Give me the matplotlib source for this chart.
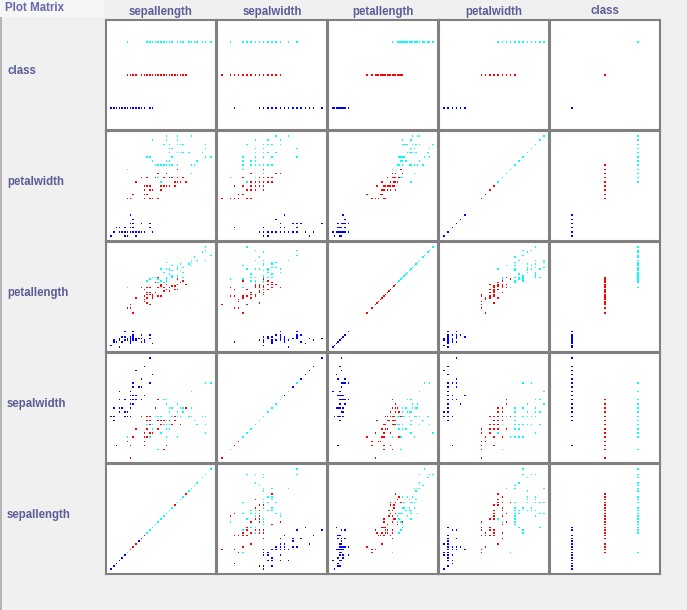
import matplotlib
matplotlib.use('Agg')
import matplotlib.pyplot as plt
import matplotlib.patches as patches
import numpy as np

# iris data (weka iris.arff)
sepallength = [5.1, 4.9, 4.7, 4.6, 5.0, 5.4, 4.6, 5.0, 4.4, 4.9, 5.4, 4.8, 4.8, 4.3, 5.8, 5.7, 5.4, 5.1, 5.7, 5.1,
               5.4, 5.1, 4.6, 5.1, 4.8, 5.0, 5.0, 5.2, 5.2, 4.7, 4.8, 5.4, 5.2, 5.5, 4.9, 5.0, 5.5, 4.9, 4.4, 5.1,
               5.0, 4.5, 4.4, 5.0, 5.1, 4.8, 5.1, 4.6, 5.3, 5.0,
               7.0, 6.4, 6.9, 5.5, 6.5, 5.7, 6.3, 4.9, 6.6, 5.2, 5.0, 5.9, 6.0, 6.1, 5.6, 6.7, 5.6, 5.8, 6.2, 5.6,
               5.9, 6.1, 6.3, 6.1, 6.4, 6.6, 6.8, 6.7, 6.0, 5.7, 5.5, 5.5, 5.8, 6.0, 5.4, 6.0, 6.7, 6.3, 5.6, 5.5,
               5.5, 6.1, 5.8, 5.0, 5.6, 5.7, 5.7, 6.2, 5.1, 5.7,
               6.3, 5.8, 7.1, 6.3, 6.5, 7.6, 4.9, 7.3, 6.7, 7.2, 6.5, 6.4, 6.8, 5.7, 5.8, 6.4, 6.5, 7.7, 7.7, 6.0,
               6.9, 5.6, 7.7, 6.3, 6.7, 7.2, 6.2, 6.1, 6.4, 7.2, 7.4, 7.9, 6.4, 6.3, 6.1, 7.7, 6.3, 6.4, 6.0, 6.9,
               6.7, 6.9, 5.8, 6.8, 6.7, 6.7, 6.3, 6.5, 6.2, 5.9]
sepalwidth = [3.5, 3.0, 3.2, 3.1, 3.6, 3.9, 3.4, 3.4, 2.9, 3.1, 3.7, 3.4, 3.0, 3.0, 4.0, 4.4, 3.9, 3.5, 3.8, 3.8,
              3.4, 3.7, 3.6, 3.3, 3.4, 3.0, 3.4, 3.5, 3.4, 3.2, 3.1, 3.4, 4.1, 4.2, 3.1, 3.2, 3.5, 3.1, 3.0, 3.4,
              3.5, 2.3, 3.2, 3.5, 3.8, 3.0, 3.8, 3.2, 3.7, 3.3,
              3.2, 3.2, 3.1, 2.3, 2.8, 2.8, 3.3, 2.4, 2.9, 2.7, 2.0, 3.0, 2.2, 2.9, 2.9, 3.1, 3.0, 2.7, 2.2, 2.5,
              3.2, 2.8, 2.5, 2.8, 2.9, 3.0, 2.8, 3.0, 2.9, 2.6, 2.4, 2.4, 2.7, 2.7, 3.0, 3.4, 3.1, 2.3, 3.0, 2.5,
              2.6, 3.0, 2.6, 2.3, 2.7, 3.0, 2.9, 2.9, 2.5, 2.8,
              3.3, 2.7, 3.0, 2.9, 3.0, 3.0, 2.5, 2.9, 2.5, 3.6, 3.2, 2.7, 3.0, 2.5, 2.8, 3.2, 3.0, 3.8, 2.6, 2.2,
              3.2, 2.8, 2.8, 2.7, 3.3, 3.2, 2.8, 3.0, 2.8, 3.0, 2.8, 3.8, 2.8, 2.8, 2.6, 3.0, 3.4, 3.1, 3.0, 3.1,
              3.1, 3.1, 2.7, 3.2, 3.3, 3.0, 2.5, 3.0, 3.4, 3.0]
petallength = [1.4, 1.4, 1.3, 1.5, 1.4, 1.7, 1.4, 1.5, 1.4, 1.5, 1.5, 1.6, 1.4, 1.1, 1.2, 1.5, 1.3, 1.4, 1.7, 1.5,
               1.7, 1.5, 1.0, 1.7, 1.9, 1.6, 1.6, 1.5, 1.4, 1.6, 1.6, 1.5, 1.5, 1.4, 1.5, 1.2, 1.3, 1.5, 1.3, 1.5,
               1.3, 1.3, 1.3, 1.6, 1.9, 1.4, 1.6, 1.4, 1.5, 1.4,
               4.7, 4.5, 4.9, 4.0, 4.6, 4.5, 4.7, 3.3, 4.6, 3.9, 3.5, 4.2, 4.0, 4.7, 3.6, 4.4, 4.5, 4.1, 4.5, 3.9,
               4.8, 4.0, 4.9, 4.7, 4.3, 4.4, 4.8, 5.0, 4.5, 3.5, 3.8, 3.7, 3.9, 5.1, 4.5, 4.5, 4.7, 4.4, 4.1, 4.0,
               4.4, 4.6, 4.0, 3.3, 4.2, 4.2, 4.2, 4.3, 3.0, 4.1,
               6.0, 5.1, 5.9, 5.6, 5.8, 6.6, 4.5, 6.3, 5.8, 6.1, 5.1, 5.3, 5.5, 5.0, 5.1, 5.3, 5.5, 6.7, 6.9, 5.0,
               5.7, 4.9, 6.7, 4.9, 5.7, 6.0, 4.8, 4.9, 5.6, 5.8, 6.1, 6.4, 5.6, 5.1, 5.6, 6.1, 5.6, 5.5, 4.8, 5.4,
               5.6, 5.1, 5.1, 5.9, 5.7, 5.2, 5.0, 5.2, 5.4, 5.1]
petalwidth = [0.2, 0.2, 0.2, 0.2, 0.2, 0.4, 0.3, 0.2, 0.2, 0.1, 0.2, 0.2, 0.1, 0.1, 0.2, 0.4, 0.4, 0.3, 0.3, 0.3,
              0.2, 0.4, 0.2, 0.5, 0.2, 0.2, 0.4, 0.2, 0.2, 0.2, 0.2, 0.4, 0.1, 0.2, 0.1, 0.2, 0.2, 0.1, 0.2, 0.2,
              0.3, 0.3, 0.2, 0.6, 0.4, 0.3, 0.2, 0.2, 0.2, 0.2,
              1.4, 1.5, 1.5, 1.3, 1.5, 1.3, 1.6, 1.0, 1.3, 1.4, 1.0, 1.5, 1.0, 1.4, 1.3, 1.4, 1.5, 1.0, 1.5, 1.1,
              1.8, 1.3, 1.5, 1.2, 1.3, 1.4, 1.4, 1.7, 1.5, 1.0, 1.1, 1.0, 1.2, 1.6, 1.5, 1.6, 1.5, 1.3, 1.3, 1.3,
              1.2, 1.4, 1.2, 1.0, 1.3, 1.2, 1.3, 1.3, 1.1, 1.3,
              2.5, 1.9, 2.1, 1.8, 2.2, 2.1, 1.7, 1.8, 1.8, 2.5, 2.0, 1.9, 2.1, 2.0, 2.4, 2.3, 1.8, 2.2, 2.3, 1.5,
              2.3, 2.0, 2.0, 1.8, 2.1, 1.8, 1.8, 1.8, 2.1, 1.6, 1.9, 2.0, 2.2, 1.5, 1.4, 2.3, 2.4, 1.8, 1.8, 2.1,
              2.4, 2.3, 1.9, 2.3, 2.5, 2.3, 1.9, 2.0, 2.3, 1.8]
species = ['Iris-setosa'] * 50 + ['Iris-versicolor'] * 50 + ['Iris-virginica'] * 50
class_names = ['Iris-setosa', 'Iris-versicolor', 'Iris-virginica']
class_colors = ['#0000ff', '#ff0000', '#00ffff']

col_attrs = ['sepallength', 'sepalwidth', 'petallength', 'petalwidth', 'class']
row_attrs = ['class', 'petalwidth', 'petallength', 'sepalwidth', 'sepallength']

data = {
    'sepallength': np.array(sepallength),
    'sepalwidth': np.array(sepalwidth),
    'petallength': np.array(petallength),
    'petalwidth': np.array(petalwidth),
    'class': np.array([class_names.index(s) for s in species], dtype=float),
}
colors = [class_colors[class_names.index(s)] for s in species]

W, H = 687, 610
fig = plt.figure(figsize=(W / 100, H / 100), dpi=100)
fig.patch.set_facecolor('#f0f0f0')

label_color = '#5c5c98'
font = ['Liberation Sans', 'DejaVu Sans']


def px_axes(x, y, w, h):
    # pixel box (top-left origin) -> figure fraction axes
    return fig.add_axes([x / W, 1 - (y + h) / H, w / W, h / H])


def limits(attr):
    v = data[attr]
    if attr == 'class':
        return -0.67, len(class_names) - 1 + 0.67
    lo, hi = v.min(), v.max()
    pad = (hi - lo) * 0.05
    return lo - pad, hi + pad


# left strip line + title box
fig.add_artist(patches.Rectangle((0, 0), 1.5 / W, 1 - 17 / H, transform=fig.transFigure,
                                 facecolor='#b4b4b4', edgecolor='none'))
fig.add_artist(patches.Rectangle((0, 1 - 17 / H), 104 / W, 17 / H, transform=fig.transFigure,
                                 facecolor='#f6f6f6', edgecolor='none'))
fig.text(5 / W, 1 - 8 / H, 'Plot Matrix', ha='left', va='center', fontsize=8.3,
         fontweight='bold', color='#6868ac', family=font)

x0, y0, size, step = 106, 20, 110, 111
for j, attr in enumerate(col_attrs):
    fig.text((x0 + step * j + size / 2) / W, 1 - 11.5 / H, attr, ha='center', va='center',
             fontsize=8.3, fontweight='bold', color=label_color, family=font)
for i, attr in enumerate(row_attrs):
    fig.text(7 / W, 1 - (y0 + step * i + size / 2 - 4) / H, attr, ha='left', va='center',
             fontsize=8.3, fontweight='bold', color=label_color, family=font)

for i, yattr in enumerate(row_attrs):
    for j, xattr in enumerate(col_attrs):
        ax = px_axes(x0 + step * j, y0 + step * i, size, size)
        ax.set_facecolor('white')
        ax.scatter(data[xattr], data[yattr], c=colors, s=1.1, marker='s', linewidths=0)
        ax.set_xlim(*limits(xattr))
        ax.set_ylim(*limits(yattr))
        ax.set_xticks([])
        ax.set_yticks([])
        for sp in ax.spines.values():
            sp.set_color('#808080')
            sp.set_linewidth(1.5)

fig.savefig('out.png', dpi=100, facecolor=fig.get_facecolor())
